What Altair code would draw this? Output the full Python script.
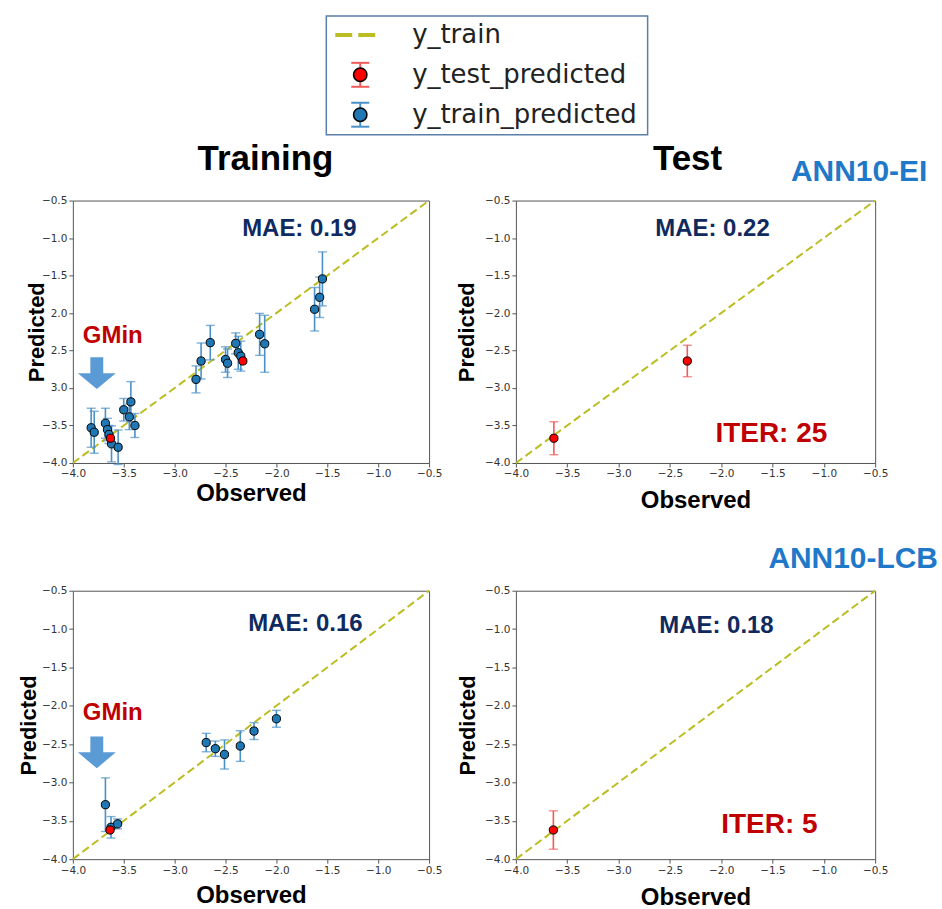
import altair as alt
import pandas as pd

# ---- shared axis settings -------------------------------------------------
axis_min, axis_max = -4.0, -0.5
tick_values = [-4.0, -3.5, -3.0, -2.5, -2.0, -1.5, -1.0, -0.5]
diagonal = [-4.0, -0.5]

# ---- ANN10-EI: training set (observed, predicted, std) ---------------------
ei_train_obs = [-3.82, -3.79, -3.68, -3.66, -3.645, -3.62, -3.555, -3.50, -3.43, -3.445, -3.39,
                -2.79, -2.74, -2.65, -2.50, -2.48, -2.40, -2.375, -2.35, -2.165, -2.115,
                -1.625, -1.575, -1.548]
ei_train_pred = [-3.53, -3.59, -3.47, -3.555, -3.62, -3.745, -3.79, -3.29, -3.185, -3.385, -3.50,
                 -2.885, -2.64, -2.395, -2.62, -2.67, -2.405, -2.53, -2.575, -2.285, -2.41,
                 -1.95, -1.79, -1.545]
ei_train_err = [0.26, 0.28, 0.20, 0.15, 0.12, 0.24, 0.23, 0.15, 0.27, 0.17, 0.16,
                0.18, 0.24, 0.23, 0.17, 0.19, 0.14, 0.22, 0.20, 0.28, 0.38,
                0.29, 0.27, 0.36]
ei_test_obs = [-3.63, -2.33]
ei_test_pred = [-3.67, -2.64]
ei_test_err = [0.22, 0.21]

# ---- ANN10-LCB ------------------------------------------------------------
lcb_train_obs = [-3.68, -3.625, -3.56, -2.69, -2.60, -2.51, -2.355, -2.22, -2.00]
lcb_train_pred = [-3.29, -3.585, -3.54, -2.48, -2.56, -2.635, -2.525, -2.33, -2.17]
lcb_train_err = [0.35, 0.14, 0.065, 0.12, 0.10, 0.19, 0.20, 0.11, 0.11]
lcb_test_obs = [-3.635]
lcb_test_pred = [-3.62]
lcb_test_err = [0.25]

# ---- colours / fonts -------------------------------------------------------
OLIVE = "#bcbd22"
TRAIN_FILL = "#1f77b4"
TRAIN_BAR = "#4a90c8"
TEST_FILL = "#ff0000"
TEST_BAR = "#f25a5a"
NAVY = "#0f2a5f"
DARK_RED = "#c00000"
ANN_BLUE = "#1f78c8"
ARROW_BLUE = "#5b9bd5"
BOLD_FONT = "Liberation Sans"
TICK_FONT = "DejaVu Sans"

# downward block arrow (unit-square SVG path)
ARROW_PATH = "M-0.34,-0.84 L0.34,-0.84 L0.34,0 L1,0 L0,0.84 L-1,0 L-0.34,0 Z"


def frame(obs, pred, err):
    return pd.DataFrame({
        "obs": obs,
        "pred": pred,
        "lo": [p - e for p, e in zip(pred, err)],
        "hi": [p + e for p, e in zip(pred, err)],
    })


def text(t, x, y, size, color, font=BOLD_FONT, weight="bold", align="center"):
    return alt.Chart(pd.DataFrame({"t": [t]})).mark_text(
        font=font, fontSize=size, fontWeight=weight, color=color,
        align=align, baseline="middle"
    ).encode(x=alt.value(x), y=alt.value(y), text="t:N")


def scatter_layers(df, fill, bar, X, Y, with_bars=True):
    pts = alt.Chart(df).mark_circle(size=68, opacity=1, color=fill, stroke="black",
                                    strokeWidth=1).encode(
        x=X("obs:Q"), y=Y("pred:Q"))
    if not with_bars:
        return [pts]
    bars = alt.Chart(df).mark_rule(color=bar, strokeWidth=1.6).encode(
        x=X("obs:Q"), y=Y("lo:Q"), y2="hi:Q")
    cap_lo = alt.Chart(df).mark_tick(color=bar, orient="horizontal", size=9, thickness=1.4).encode(
        x=X("obs:Q"), y=Y("lo:Q"))
    cap_hi = alt.Chart(df).mark_tick(color=bar, orient="horizontal", size=9, thickness=1.4).encode(
        x=X("obs:Q"), y=Y("hi:Q"))
    return [bars, cap_lo, cap_hi, pts]


def panel(w, h, train_df, test_df, ytitle_x, xtitle_y, extras, hide_minus=False):
    xs = alt.Scale(domain=[axis_min, axis_max], nice=False, zero=False)
    ys = alt.Scale(domain=[axis_min, axis_max], nice=False, zero=False)
    common = dict(values=tick_values, format=".1f", grid=False, domain=False,
                  tickColor="#555", tickSize=4, labelFont=TICK_FONT, labelFontSize=10.5,
                  labelColor="#333", labelPadding=2, labelFlush=False, labelOverlap=False,
                  titleFont=BOLD_FONT, titleFontWeight="bold", titleColor="black",
                  titleBaseline="middle")
    xaxis = alt.Axis(title="Observed", titleFontSize=24, titleY=xtitle_y, titleX=w / 2, **common)
    yextra = {}
    if hide_minus:
        yextra["labelExpr"] = ("datum.value <= -1.99 && datum.value >= -3.01 ? "
                               "format(abs(datum.value), '.1f') : datum.label")
    yaxis = alt.Axis(title="Predicted", titleFontSize=22, titleX=ytitle_x, titleY=h / 2,
                     titleAngle=270, **common, **yextra)

    def X(field):
        return alt.X(field, scale=xs, axis=xaxis)

    def Y(field):
        return alt.Y(field, scale=ys, axis=yaxis)

    line = alt.Chart(pd.DataFrame({"obs": diagonal, "pred": diagonal})).mark_line(
        color=OLIVE, strokeDash=[8, 4], strokeWidth=2
    ).encode(x=X("obs:Q"), y=Y("pred:Q"))

    layers = [line]
    if train_df is not None:
        layers += scatter_layers(train_df, TRAIN_FILL, TRAIN_BAR, X, Y)
        layers += scatter_layers(test_df, TEST_FILL, TEST_BAR, X, Y, with_bars=False)
    else:
        layers += scatter_layers(test_df, TEST_FILL, TEST_BAR, X, Y)
    layers += extras
    return alt.layer(*layers).properties(width=w, height=h)


def arrow(x, y):
    return alt.Chart(pd.DataFrame({"a": [0]})).mark_point(
        shape=ARROW_PATH, size=1444, filled=True, fill=ARROW_BLUE, opacity=1, strokeWidth=0
    ).encode(x=alt.value(x), y=alt.value(y))


def corner(x, y):
    return alt.Chart(pd.DataFrame({"a": [0]})).mark_rect(color="white", opacity=1).encode(
        x=alt.value(x), x2=alt.value(x + 1), y=alt.value(y), y2=alt.value(y + 1))


# ---- legend (drawn above the training panel) --------------------------------
legend_labels = ["y_train", "y_test_predicted", "y_train_predicted"]
legend_layers = [
    alt.Chart(pd.DataFrame({"a": [0]})).mark_rect(
        fill="white", stroke="#5b7fa8", strokeWidth=1.5
    ).encode(x=alt.value(254), x2=alt.value(576), y=alt.value(-185), y2=alt.value(-66)),
    alt.Chart(pd.DataFrame({"a": [0]})).mark_rule(
        color=OLIVE, strokeDash=[17, 6], strokeWidth=4
    ).encode(x=alt.value(263), x2=alt.value(303), y=alt.value(-166)),
]
for cy, fill, bar in [(-126, TEST_FILL, TEST_BAR), (-86, TRAIN_FILL, TRAIN_BAR)]:
    one = pd.DataFrame({"a": [0]})
    legend_layers += [
        alt.Chart(one).mark_rule(color=bar, strokeWidth=2).encode(
            x=alt.value(288), y=alt.value(cy - 12), y2=alt.value(cy + 12)),
        alt.Chart(one).mark_rule(color=bar, strokeWidth=2).encode(
            x=alt.value(279), x2=alt.value(297), y=alt.value(cy - 12)),
        alt.Chart(one).mark_rule(color=bar, strokeWidth=2).encode(
            x=alt.value(279), x2=alt.value(297), y=alt.value(cy + 12)),
        alt.Chart(one).mark_circle(size=180, opacity=1, color=fill, stroke="black",
                                   strokeWidth=1.5).encode(x=alt.value(288), y=alt.value(cy)),
    ]
for lab, cy in zip(legend_labels, [-166, -126, -86]):
    legend_layers.append(text(lab, 340, cy, 26, "#222", font=TICK_FONT, weight="normal",
                              align="left"))

# ---- panels ---------------------------------------------------------------
W0, W1 = 357, 360
H0, H1 = 263, 269

top_left = panel(
    W0, H0, frame(ei_train_obs, ei_train_pred, ei_train_err),
    frame(ei_test_obs, ei_test_pred, ei_test_err), -36, 31,
    [corner(-72, -199)] + legend_layers + [
        text("Training", 193, -42, 35, "black"),
        text("MAE: 0.19", 227, 29, 24, NAVY),
        text("GMin", 40, 136, 24, DARK_RED),
        arrow(24, 173),
    ],
    hide_minus=True,
)

top_right = panel(
    W1, H0, None, frame(ei_test_obs, ei_test_pred, ei_test_err), -49, 38,
    [
        text("Test", 172, -42, 35, "black"),
        text("ANN10-EI", 344, -29, 30, ANN_BLUE),
        text("MAE: 0.22", 197, 29, 24, NAVY),
        text("ITER: 25", 256, 234, 28, DARK_RED),
    ],
)

bottom_left = panel(
    W0, H1, frame(lcb_train_obs, lcb_train_pred, lcb_train_err),
    frame(lcb_test_obs, lcb_test_pred, lcb_test_err), -44, 36,
    [
        text("MAE: 0.16", 233, 33, 24, NAVY),
        text("GMin", 40, 123, 24, DARK_RED),
        arrow(24, 162),
    ],
)

bottom_right = panel(
    W1, H1, None, frame(lcb_test_obs, lcb_test_pred, lcb_test_err), -48, 38,
    [
        text("ANN10-LCB", 338, -32, 30, ANN_BLUE),
        text("MAE: 0.18", 201, 35, 24, NAVY),
        text("ITER: 5", 254, 235, 28, DARK_RED),
        corner(425, 318),
    ],
)

chart = alt.concat(
    top_left, top_right, bottom_left, bottom_right,
    columns=2, spacing={"row": 128, "column": 87}, bounds="flush",
).properties(
    padding=0, background="white"
).configure_view(
    stroke="#555", strokeWidth=1
)

chart.save("out.html", embed_options={"renderer": "svg", "actions": False})
